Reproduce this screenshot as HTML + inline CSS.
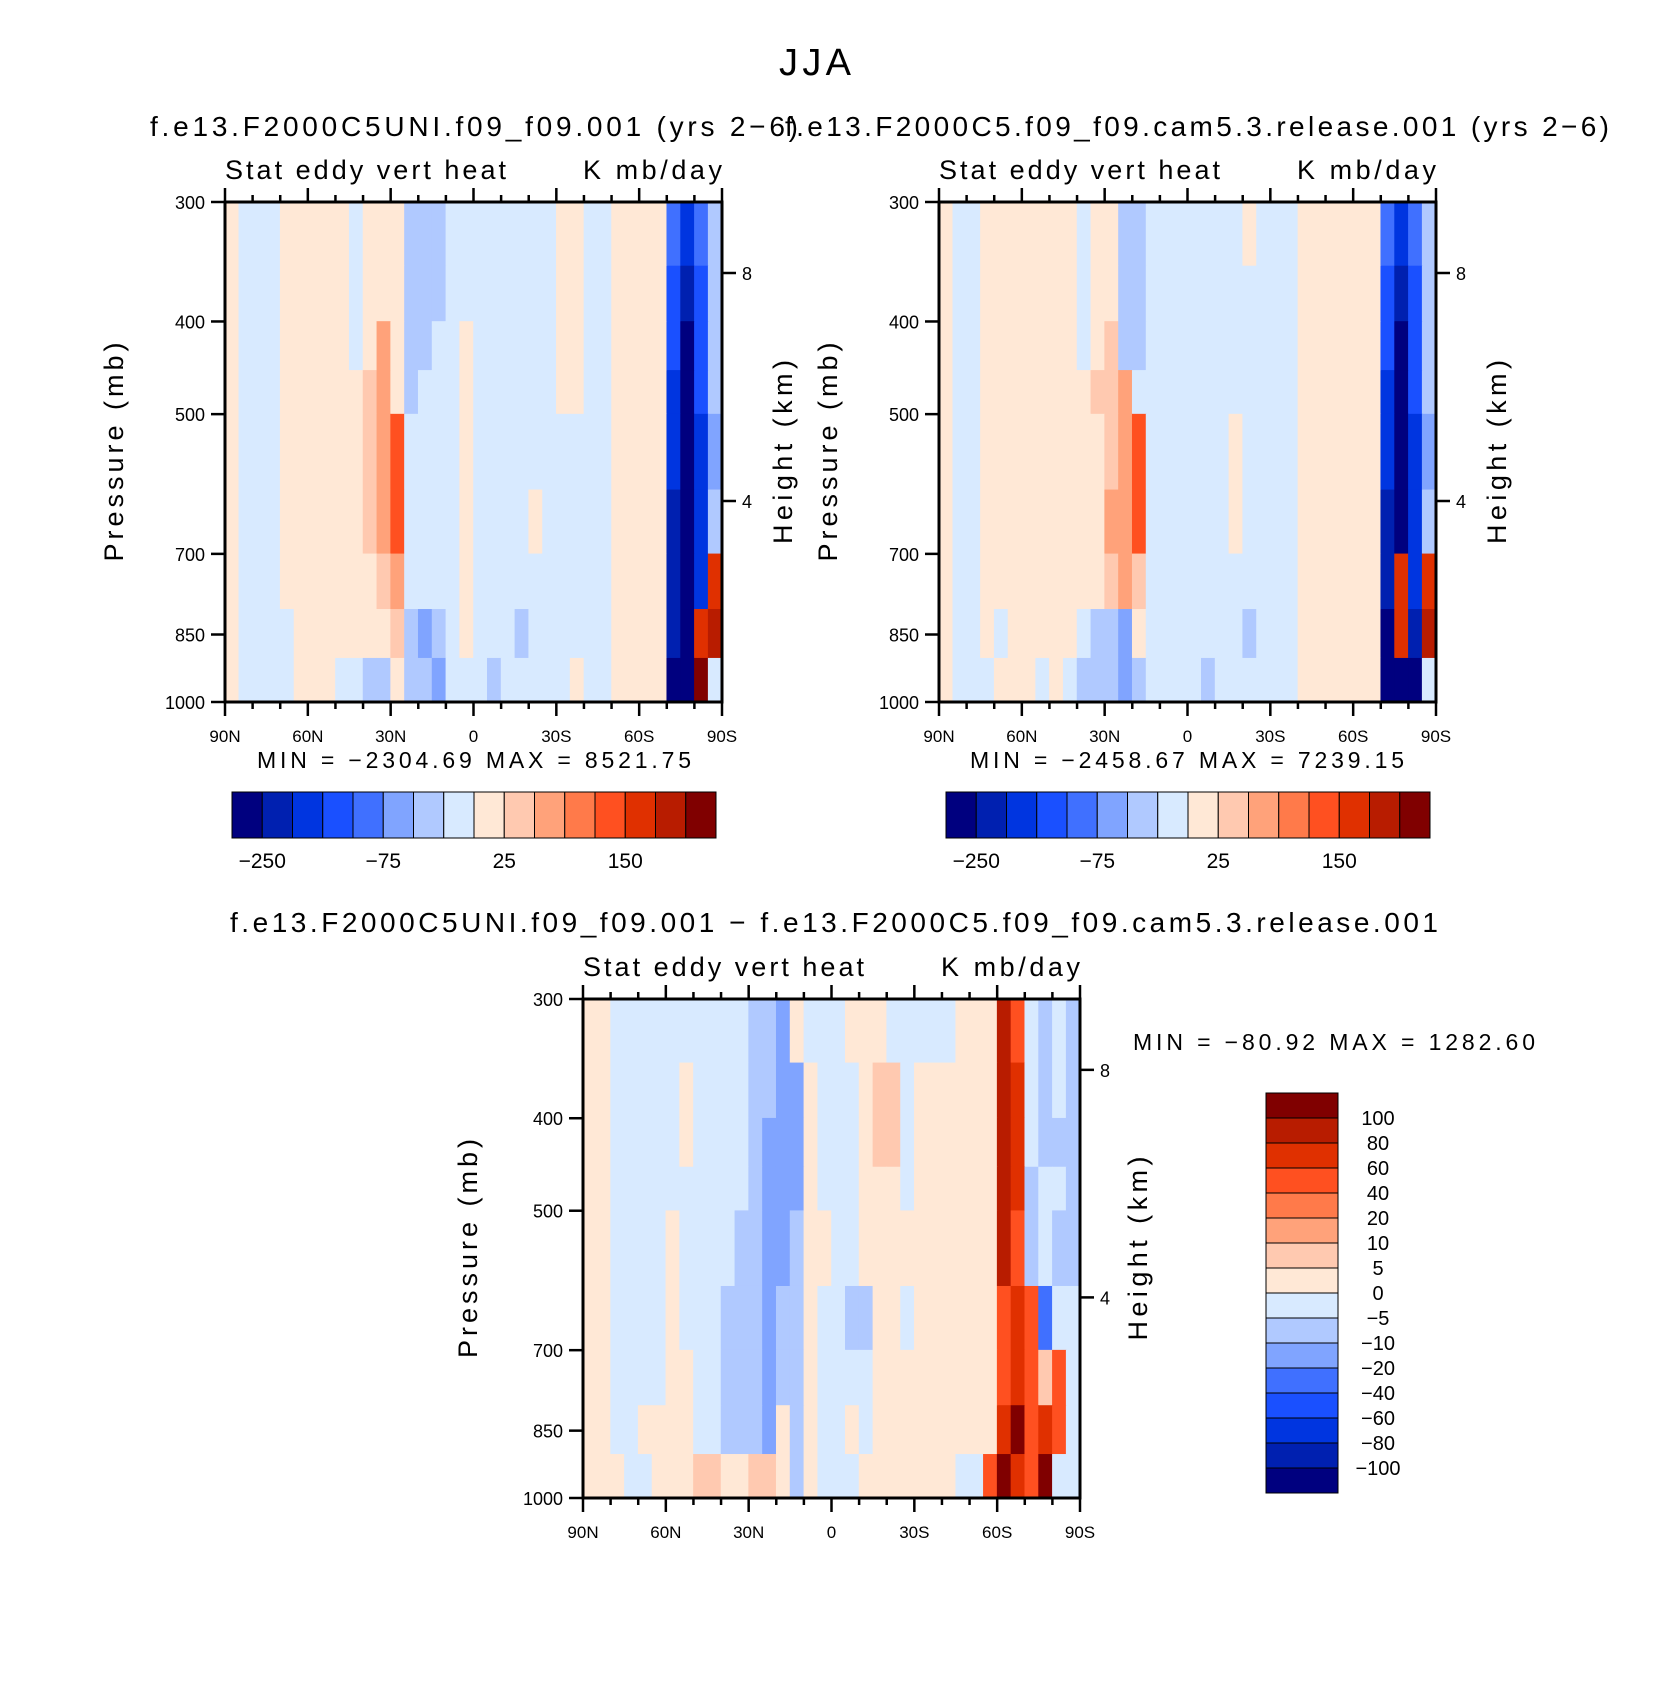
<!DOCTYPE html>
<html><head><meta charset="utf-8"><style>
body{margin:0;background:#fff}
svg{display:block;font-family:"Liberation Sans",sans-serif}
</style></head><body>
<svg id="fig" width="1660" height="1699" viewBox="0 0 1660 1699" xmlns="http://www.w3.org/2000/svg">
<rect width="1660" height="1699" fill="#fff"/>
<text x="815" y="75" font-size="38" text-anchor="middle" textLength="72" lengthAdjust="spacing">JJA</text>
<g id="layer"></g>
</svg>
<script>
const palette=["#00007f","#0020b0","#0035e0","#1a50ff","#4070ff","#80a4ff","#b0c9ff","#d8eaff","#ffe8d6","#ffc9b0","#ffa27a","#ff7a4a","#ff5020","#e03000","#b81c00","#800000"];
const pressureEdges=[300,350,400,450,500,600,700,800,900,1000];
const pTicks=[300,400,500,700,850,1000];
const latTicks=["90N","60N","30N","0","30S","60S","90S"];
const cb1Labels=["-250","-75","25","150"];
const cb3Labels=["100","80","60","40","20","10","5","0","\u22125","\u221210","\u221220","\u221240","\u221260","\u221280","\u2212100"];
const plot1Rows=[
"877788888788866677777777887788884246",
"877788888788866677777777887788883136",
"87778888878a866778777777887788883036",
"8777888888" + "9a8677" + "78777777" + "88" + "77" + "8888" + "2036",
"8777888888" + "9ac777" + "78777777" + "77" + "77" + "8888" + "2025",
"8777888888" + "9ac777" + "78777787" + "77" + "77" + "8888" + "1026",
"8777888888" + "89a777" + "78777777" + "77" + "77" + "8888" + "102d",
"8777788888" + "889656" + "78777677" + "77" + "77" + "8888" + "10de",
"8777788877" + "668665" + "77767777" + "78" + "77" + "8888" + "00f7"];
const plot2Rows=[
"877888888878866777777787778888884246",
"877888888878866777777777778888883136",
"877888888878966777777777778888883036",
"8778888888899a7777777777778888882036",
"8778888888889ac777777877778888882025",
"877888888888aac777777877778888881026",
"8778888888889a9777777777778888881d2d",
"877878888876658777777767778888880d1e",
"877788878766656777767777778888880007"];
const plot3Rows=[
"887777777777665877788877777888ec7676",
"887777787777665587778997888888ed7676",
"887777787777655587778997888888ed7666",
"887777777777655587778887888888ed6776",
"887777877776655688778888888888ec6766",
"887777877766656687766887888888cdc477",
"887777887766656687777888888888cdc9c7",
"887788887766658687787888888888dfcdc7",
"88877888998899868777888888877cfdcf77"];
const NS="http://www.w3.org/2000/svg";
const layer=document.getElementById('layer');
function mk(tag,attrs,parent){const e=document.createElementNS(NS,tag);for(const k in attrs)e.setAttribute(k,attrs[k]);(parent||layer).appendChild(e);return e;}
function drawPlot(name,x0,y0,x1,y1,rows,pOff,hOff){
  const g=mk('g',{});
  
  
  const xs=c=>x0+(x1-x0)*c/36;
  const ys=p=>y0+(y1-y0)*Math.log(p/300)/Math.log(1000/300);
  rows.forEach((row,r)=>{
    for(let c=0;c<36;c++){
      const v=parseInt(row[c],16);
      const rc=mk('rect',{x:xs(c)-0.3,y:ys(pressureEdges[r])-0.3,width:(x1-x0)/36+0.6,height:ys(pressureEdges[r+1])-ys(pressureEdges[r])+0.6,fill:palette[v]},g);
      
      
    }
  });
  mk('rect',{x:x0,y:y0,width:x1-x0,height:y1-y0,fill:'none',stroke:'#000','stroke-width':3},g);
  for(let i=0;i<=18;i++){
    const x=x0+(x1-x0)*i/18,L=i%3==0?14:7;
    mk('line',{x1:x,x2:x,y1:y1,y2:y1+L,stroke:'#000','stroke-width':2.5},g);
    mk('line',{x1:x,x2:x,y1:y0,y2:y0-L,stroke:'#000','stroke-width':2.5},g);
  }
  latTicks.forEach((t,i)=>{const tx=mk('text',{x:x0+(x1-x0)*i/6,y:y1+40,'font-size':17,'text-anchor':'middle'},g);tx.textContent=t;
    });
  pTicks.forEach(p=>{const y=ys(p);mk('line',{x1:x0-14,x2:x0,y1:y,y2:y,stroke:'#000','stroke-width':2.5},g);
    const tx=mk('text',{x:x0-20,y:y+7,'font-size':18,'text-anchor':'end'},g);tx.textContent=p;
    });
  [[8,0.142],[4,0.598]].forEach(([h,f])=>{const y=y0+(y1-y0)*f;mk('line',{x1:x1,x2:x1+14,y1:y,y2:y,stroke:'#000','stroke-width':2.5},g);
    const tx=mk('text',{x:x1+20,y:y+7,'font-size':18},g);tx.textContent=h;
    });
  const yl=mk('text',{x:0,y:0,'font-size':27,'text-anchor':'middle',textLength:219,lengthAdjust:'spacing',transform:`translate(${x0-pOff},${(y0+y1)/2}) rotate(-90)`},g);yl.textContent='Pressure  (mb)';
  
  const hl=mk('text',{x:0,y:0,'font-size':27,'text-anchor':'middle',textLength:184,lengthAdjust:'spacing',transform:`translate(${x1+hOff},${(y0+y1)/2}) rotate(-90)`},g);hl.textContent='Height  (km)';
  
  const s1=mk('text',{x:x0,y:y0-23,'font-size':27,textLength:281,lengthAdjust:'spacing'},g);s1.textContent='Stat  eddy  vert  heat';
  
  const s2=mk('text',{x:x1-139,y:y0-23,'font-size':27,textLength:139,lengthAdjust:'spacing'},g);s2.textContent='K  mb/day';
  
}
function hbar(name,x0,y0,x1,y1){
  const g=mk('g',{});
  const w=(x1-x0)/16;
  palette.forEach((c,i)=>{const r=mk('rect',{x:x0+i*w,y:y0,width:w,height:y1-y0,fill:c,stroke:'#000','stroke-width':1},g);
    });
  cb1Labels.forEach((t,i)=>{const tx=mk('text',{x:x0+w*(1+4*i),y:y1+30,'font-size':21,'text-anchor':'middle'},g);tx.textContent=t.replace('-','\u2212');
    });
}
function vbar(name,x0,y0,x1,y1){
  const g=mk('g',{});
  const h=(y1-y0)/16;
  palette.slice().reverse().forEach((c,i)=>{const r=mk('rect',{x:x0,y:y0+i*h,width:x1-x0,height:h,fill:c,stroke:'#000','stroke-width':1},g);
    });
  cb3Labels.forEach((t,i)=>{const tx=mk('text',{x:x1+40,y:y0+h*(i+1)+7,'font-size':20,'text-anchor':'middle'},g);tx.textContent=t;
    });
}
function txt(name,s,x,y,size,len){const t=mk('text',{x:x,y:y,'font-size':size,textLength:len,lengthAdjust:'spacing'});t.textContent=s;
  }
drawPlot('panel-uni',225,202,722,702,plot1Rows,102,70);
drawPlot('panel-release',939,202,1436,702,plot2Rows,102,70);
drawPlot('panel-diff',583,999,1080,1498,plot3Rows,106,67);
hbar('colorbar-uni',232,792,716,838);
hbar('colorbar-release',946,792,1430,838);
vbar('colorbar-diff',1266,1093,1338,1493);
txt('title-uni','f.e13.F2000C5UNI.f09_f09.001  (yrs  2\u22126)',150,136,28,648);
txt('title-release','f.e13.F2000C5.f09_f09.cam5.3.release.001  (yrs  2\u22126)',785,136,28,824);
txt('title-diff','f.e13.F2000C5UNI.f09_f09.001  \u2212  f.e13.F2000C5.f09_f09.cam5.3.release.001',230,932,28,1208);
txt('minmax-uni','MIN  =  \u22122304.69    MAX  =  8521.75',257,768,23,434);
txt('minmax-release','MIN  =  \u22122458.67    MAX  =  7239.15',970,768,23,434);
txt('minmax-diff','MIN  =  \u221280.92    MAX  =  1282.60',1133,1050,23,402);
</script>
</body></html>
